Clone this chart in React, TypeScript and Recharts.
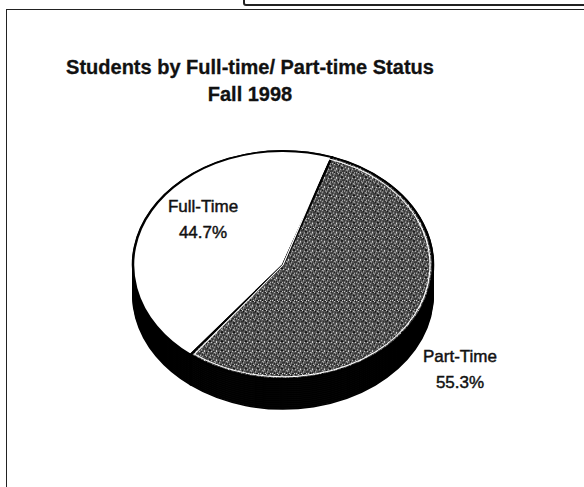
import React from 'react';
import { PieChart, Pie, Cell } from 'recharts';

const categories = ['Full-Time', 'Part-Time'];
const shares = [44.7, 55.3];
const shareLabels = ['44.7%', '55.3%'];
const titleLines = ['Students by Full-time/ Part-time Status', 'Fall 1998'];

const data = categories.map((name, i) => ({ name, value: shares[i] }));

const SCALE_Y = 0.76;
const CX = 283;
const CY_TOP = 265;
const R = 150;
const DEPTH = 30;
const sideOffsets = Array.from({ length: 16 }, (_, i) => DEPTH - i * 2);
const topFills = ['#ffffff', 'url(#speckle)'];
const rimStrokes = ['none', '#ffffff'];
const labelPos = [
  { x: 203, y: 194 },
  { x: 460, y: 344 },
];
const FONT = '"Liberation Sans", Arial, sans-serif';

const specksDark = [
  [0, 0, 2, 1], [3, 1, 1, 2], [1, 3, 2, 1], [5, 4, 2, 2], [8, 2, 1, 1], [9, 6, 2, 1], [2, 7, 1, 2],
  [6, 9, 2, 1], [10, 10, 1, 2], [0, 10, 1, 1], [7, 0, 1, 1], [11, 3, 1, 1], [4, 11, 2, 1], [8, 8, 1, 1],
];
const specksLight = [
  [2, 0, 1, 1], [6, 2, 1, 1], [0, 5, 1, 2], [4, 6, 1, 1], [10, 0, 1, 1], [9, 4, 1, 1], [3, 9, 1, 1],
  [7, 6, 1, 1], [11, 8, 1, 1], [1, 11, 1, 1], [8, 11, 1, 1], [5, 1, 1, 1], [10, 7, 1, 1], [6, 11, 1, 1],
];

export default function App() {
  return (
    <div style={{ position: 'absolute', left: 0, top: 0, width: 584, height: 487, background: '#fff', overflow: 'hidden', fontFamily: FONT }}>
      <svg width={0} height={0} style={{ position: 'absolute' }}>
        <defs>
          <pattern id="speckle" width={12} height={12} patternUnits="userSpaceOnUse">
            <rect x={0} y={0} width={12} height={12} fill="#565656" />
            {specksDark.map(([x, y, w, h], i) => (
              <rect key={'d' + i} x={x} y={y} width={w} height={h} fill="#0d0d0d" />
            ))}
            {specksLight.map(([x, y, w, h], i) => (
              <rect key={'l' + i} x={x} y={y} width={w} height={h} fill="#eeeeee" />
            ))}
          </pattern>
        </defs>
      </svg>
      {/* frame */}
      <div style={{ position: 'absolute', left: 6, top: 9, width: 600, height: 500, borderLeft: '1.5px solid #222', borderTop: '1.5px solid #222' }} />
      <div style={{ position: 'absolute', left: 243, top: -10, width: 360, height: 12, border: '2px solid #222', borderRadius: 3 }} />
      {/* title */}
      <div style={{ position: 'absolute', left: 0, top: 54, width: 500, textAlign: 'center', fontWeight: 'bold', fontSize: 20, lineHeight: '27px', color: '#111', WebkitTextStroke: '0.3px #111' }}>
        {titleLines.map((t, i) => (
          <div key={i}>{t}</div>
        ))}
      </div>
      {/* pie, squashed vertically to an ellipse */}
      <div style={{ position: 'absolute', left: 0, top: 0, transform: `scaleY(${SCALE_Y})`, transformOrigin: '0 0' }}>
        <PieChart width={584} height={580} margin={{ top: 0, right: 0, bottom: 0, left: 0 }}>
          {sideOffsets.map((off) => (
            <Pie
              key={'side' + off}
              data={data}
              dataKey="value"
              nameKey="name"
              cx={CX}
              cy={(CY_TOP + off) / SCALE_Y}
              outerRadius={R}
              startAngle={71}
              endAngle={431}
              isAnimationActive={false}
              stroke="#000"
              strokeWidth={2}
            >
              {data.map((d, i) => (
                <Cell key={i} fill="#0a0a0a" />
              ))}
            </Pie>
          ))}
          <Pie
            data={data}
            dataKey="value"
            nameKey="name"
            cx={CX}
            cy={CY_TOP / SCALE_Y}
            outerRadius={R}
            startAngle={71}
            endAngle={431}
            isAnimationActive={false}
            stroke="#000"
            strokeWidth={2.5}
          >
            {data.map((d, i) => (
              <Cell key={i} fill={topFills[i]} />
            ))}
          </Pie>
          <Pie
            data={data}
            dataKey="value"
            nameKey="name"
            cx={CX}
            cy={CY_TOP / SCALE_Y}
            outerRadius={R - 3}
            startAngle={72}
            endAngle={432}
            isAnimationActive={false}
            fill="none"
            strokeWidth={1.2}
          >
            {data.map((d, i) => (
              <Cell key={i} fill="none" stroke={rimStrokes[i]} />
            ))}
          </Pie>
        </PieChart>
      </div>
      {/* slice labels */}
      {categories.map((c, i) => (
        <div key={c} style={{ position: 'absolute', left: labelPos[i].x - 60, top: labelPos[i].y, width: 120, textAlign: 'center', fontSize: 17, lineHeight: '26px', color: '#111', WebkitTextStroke: '0.45px #111' }}>
          <div>{c}</div>
          <div>{shareLabels[i]}</div>
        </div>
      ))}
    </div>
  );
}
